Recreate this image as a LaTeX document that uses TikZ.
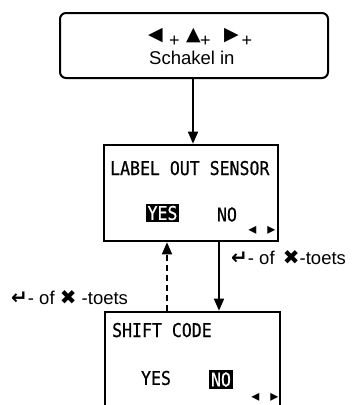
\documentclass[tikz,border=0pt]{standalone}
\usepackage{fontspec}
\setmainfont{Liberation Sans}
\newfontfamily\symfont{DejaVu Sans}
\newfontfamily\symbold{DejaVu Sans Bold}
\newfontfamily\lcdfont[FakeStretch=0.87,FakeBold=0.6]{DejaVu Sans Mono}
\usetikzlibrary{arrows.meta}
\newcommand{\enterkey}{{\symbold\fontsize{20}{18}\selectfont ↵}}
\newcommand{\xkey}{{\symfont\fontsize{20}{18}\selectfont ✖}}
\tikzset{
  frame/.style={draw, line width=2.6pt, inner sep=0pt},
  lcd/.style={font=\lcdfont\fontsize{19}{19}\selectfont, inner sep=0pt},
  hl/.style={lcd, fill=black, text=white, minimum width=33pt, minimum height=18pt},
  sans/.style={font=\fontsize{18.5}{18}\selectfont, inner sep=0pt},
  bigsym/.style={font=\symfont\fontsize{19}{19}\selectfont, inner sep=0pt},
  plus/.style={font=\fontsize{18}{18}\selectfont, inner sep=0pt},
  tiny/.style={font=\symfont\fontsize{16}{16}\selectfont, inner sep=0pt},
  arr/.style={line width=1.6pt, -{Triangle[length=12pt,width=10pt]}},
}
\begin{document}
\begin{tikzpicture}[x=1pt,y=-1pt]
\useasboundingbox (0,0) rectangle (353,405);
% top box
\node[draw, line width=2pt, rounded corners=6pt, minimum width=268pt, minimum height=65pt, inner sep=0pt] (top) at (194,45.5) {};
\node[bigsym] (l1) at (155.5,36) {◀};
\node[plus] (p1) at (174.5,41.5) {+};
\node[bigsym] (l2) at (193.5,35.5) {▲};
\node[plus] (p2) at (205.5,41.5) {+};
\node[bigsym] (l3) at (231.5,36) {▶};
\node[plus] (p3) at (247,41.5) {+};
\node[sans, anchor=base west] (sch) at (149,64) {Schakel in};
% middle box
\node[frame, minimum width=174pt, minimum height=96pt] (mid) at (191,193) {};
\node[lcd, anchor=base west] (los) at (110,175) {LABEL OUT SENSOR};
\node[hl] (yes1) at (162.5,213) {YES};
\node[lcd] (no1) at (227,214.5) {NO};
\node[tiny] (ml) at (252.5,230) {◂};
\node[tiny] (mr) at (271.5,230) {▸};
% bottom box
\node[frame, minimum width=175pt, minimum height=120pt] (bot) at (192.5,372) {};
\node[lcd, anchor=base west] (sc) at (112,337) {SHIFT CODE};
\node[lcd] (yes2) at (156,378) {YES};
\node[hl, minimum width=24pt, minimum height=19pt] (no2) at (221,379.5) {NO};
\node[tiny] (bl) at (255.5,397) {◂};
\node[tiny] (br) at (274.5,397) {▸};
% arrows
\coordinate (c1) at (193,0);
\coordinate (c2) at (219,0);
\coordinate (c3) at (167,0);
\draw[arr] (c1 |- top.south) -- (c1 |- mid.north);
\draw[arr] (c2 |- mid.south) -- (c2 |- bot.north);
\draw[arr, dashed, dash pattern=on 6pt off 4pt] (c3 |- bot.north) -- (c3 |- mid.south);
% labels
\node[sans, anchor=west] (lr) at (231,258) {\enterkey- of \,\xkey-toets};
\node[sans, anchor=west] (ll) at (11,298) {\enterkey- of \xkey\ -toets};
\end{tikzpicture}
\end{document}
